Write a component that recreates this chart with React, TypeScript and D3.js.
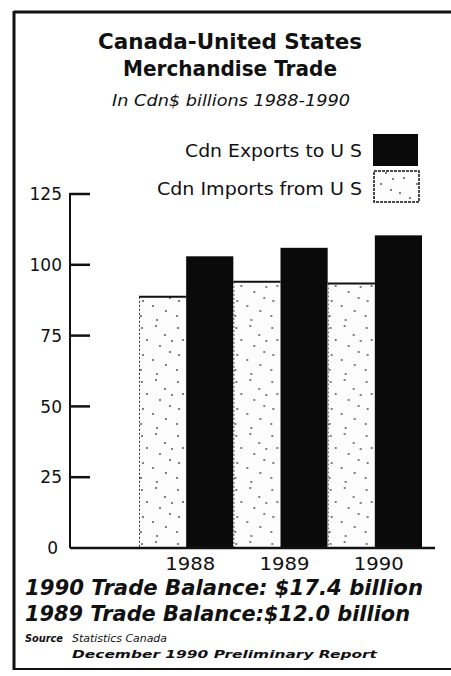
import React from "react";
import * as d3 from "d3";

const years = ["1988", "1989", "1990"];
const exportsToUS = [103, 106, 110.4];
const importsFromUS = [88.7, 94, 93.4];
const yTicks = [0, 25, 50, 75, 100, 125];
const series = ["imports", "exports"];

const W = 451;
const H = 676;
const FONT = "'DejaVu Sans', 'Open Sans', sans-serif";

// fixed stipple positions for the pattern tile
const dots: [number, number][] = [
  [3, 4], [17, 2], [26, 11], [8, 16], [21, 22], [31, 28], [4, 31], [14, 36], [27, 41], [2, 46], [18, 50], [33, 17],
];

const App: React.FC = () => {
  const y = d3.scaleLinear().domain([0, 125]).range([548, 194]);
  const x = d3.scaleBand().domain(years).range([139, 422]).padding(0);
  const xs = d3.scaleBand().domain(series).range([0, x.bandwidth()]).padding(0);
  const axisX = 70;
  const fit = { lengthAdjust: "spacingAndGlyphs" as const };

  return (
    <svg width={W} height={H} style={{ position: "absolute", left: 0, top: 0, background: "#fff" }} fontFamily={FONT}>
      <defs>
        <pattern id="stip" width={36} height={54} patternUnits="userSpaceOnUse">
          <rect width={36} height={54} fill="#fcfcfc" />
          {dots.map(([cx, cy], i) => (
            <circle key={i} cx={cx} cy={cy} r={0.9} fill="#444" />
          ))}
        </pattern>
      </defs>

      {/* frame */}
      <line x1={14} x2={W} y1={12} y2={12} stroke="#111" strokeWidth={3} />
      <line x1={14} x2={14} y1={11} y2={670} stroke="#111" strokeWidth={3} />
      <line x1={14} x2={W} y1={669} y2={669} stroke="#111" strokeWidth={2} />

      {/* titles */}
      <text x={98} y={49} fontSize={22} fontWeight="bold" fill="#111" textLength={264} {...fit}>Canada-United States</text>
      <text x={123} y={76} fontSize={22} fontWeight="bold" fill="#111" textLength={214} {...fit}>Merchandise Trade</text>
      <text x={112} y={106} fontSize={16} fontStyle="italic" fill="#111" textLength={238} {...fit}>In Cdn$ billions 1988-1990</text>

      {/* legend */}
      <text x={185} y={157} fontSize={18} fill="#111" textLength={177} {...fit}>Cdn Exports to U S</text>
      <rect x={373} y={134} width={45} height={32} fill="#0a0a0a" />
      <text x={157} y={195} fontSize={18} fill="#111" textLength={205} {...fit}>Cdn Imports from U S</text>
      <rect x={374} y={171} width={45} height={31} fill="url(#stip)" stroke="#111" strokeWidth={1.5} strokeDasharray="3 1" />

      {/* bars */}
      {years.map((yr, i) => (
        <g key={yr} transform={`translate(${x(yr)},0)`}>
          <rect x={xs("imports")} y={y(importsFromUS[i])} width={xs.bandwidth()} height={y(0) - y(importsFromUS[i])} fill="url(#stip)" />
          <line x1={xs("imports")!} x2={xs("imports")! + xs.bandwidth()} y1={y(importsFromUS[i])} y2={y(importsFromUS[i])} stroke="#111" strokeWidth={2} />
          <line x1={xs("imports")! + 0.5} x2={xs("imports")! + 0.5} y1={y(importsFromUS[i])} y2={y(0)} stroke="#333" strokeWidth={1} strokeDasharray="2 2" />
          <rect x={xs("exports")} y={y(exportsToUS[i])} width={xs.bandwidth()} height={y(0) - y(exportsToUS[i])} fill="#0a0a0a" />
        </g>
      ))}

      {/* y axis */}
      <line x1={axisX} x2={axisX} y1={y(125) - 1} y2={y(0)} stroke="#111" strokeWidth={2} />
      {yTicks.map((t) => (
        <g key={t}>
          {t > 0 && <line x1={axisX} x2={axisX + 20} y1={y(t)} y2={y(t)} stroke="#111" strokeWidth={2.5} />}
          <text x={t === 0 ? 58 : 62} y={y(t)} dy="0.36em" textAnchor="end" fontSize={17} fill="#111">{t}</text>
        </g>
      ))}
      {/* baseline */}
      <line x1={axisX} x2={435} y1={y(0)} y2={y(0)} stroke="#111" strokeWidth={2.5} />

      {/* year labels */}
      {years.map((yr) => (
        <text key={yr} x={x(yr)! + x.bandwidth() / 2 + 4} y={570} textAnchor="middle" fontSize={17} fill="#111" textLength={50} {...fit}>{yr}</text>
      ))}

      {/* trade balance notes */}
      <text x={25} y={595} fontSize={21} fontWeight="bold" fontStyle="italic" fill="#111" textLength={398} {...fit}>1990 Trade Balance: $17.4 billion</text>
      <text x={25} y={621} fontSize={21} fontWeight="bold" fontStyle="italic" fill="#111" textLength={385} {...fit}>1989 Trade Balance:$12.0 billion</text>

      {/* source */}
      <text x={25} y={642} fontSize={10} fontWeight="bold" fontStyle="italic" fill="#111" textLength={38} {...fit}>Source</text>
      <text x={72} y={642} fontSize={10} fontStyle="italic" fill="#111" textLength={95} {...fit}>Statistics Canada</text>
      <text x={72} y={658} fontSize={11} fontWeight="bold" fontStyle="italic" fill="#111" textLength={305} {...fit}>December 1990 Preliminary Report</text>
    </svg>
  );
};

export default App;
